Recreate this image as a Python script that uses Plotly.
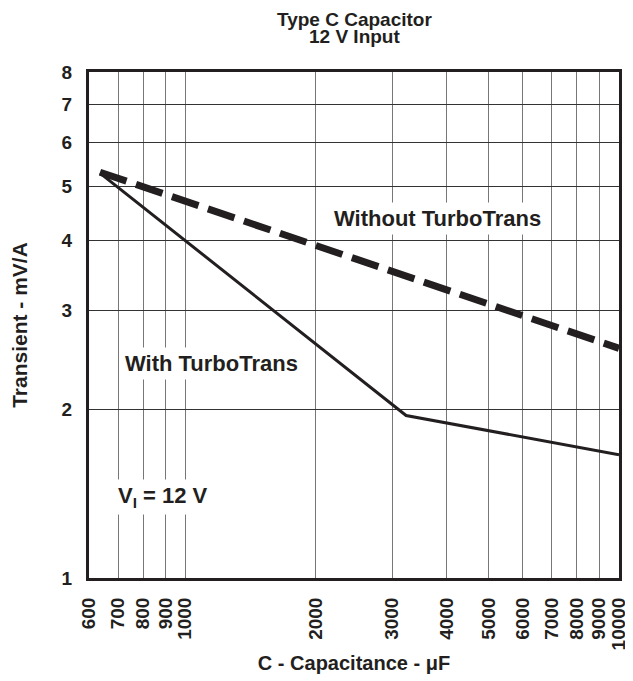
import plotly.graph_objects as go

# Data
cap_with = [636, 3230, 10000]
transient_with = [5.28, 1.95, 1.66]
cap_without = [636, 10000]
transient_without = [5.3, 2.57]

x_tickvals = [600, 700, 800, 900, 1000, 2000, 3000, 4000, 5000, 6000, 7000, 8000, 9000, 10000]
x_ticktext = ["600", "700", "800", "900", "1000", "2000", "3000", "4000", "5000", "6000", "7000", "8000", "9000", "10000"]
y_tickvals = [1, 2, 3, 4, 5, 6, 7, 8]
y_ticktext = ["1", "2", "3", "4", "5", "6", "7", "8"]

FONT = "Liberation Sans, Arial, sans-serif"

fig = go.Figure()
fig.add_trace(go.Scatter(x=cap_without, y=transient_without, mode="lines",
                         line=dict(color="#231f20", width=7, dash="28px,10px"),
                         showlegend=False, hoverinfo="skip"))
fig.add_trace(go.Scatter(x=cap_with, y=transient_with, mode="lines",
                         line=dict(color="#231f20", width=3),
                         showlegend=False, hoverinfo="skip"))

# The page body adds an 8px margin, so the figure is 8px smaller on each side
fig.update_layout(
    width=625, height=673,
    margin=dict(l=81, r=14, t=64, b=103),
    plot_bgcolor="white", paper_bgcolor="white",
    font=dict(family=FONT, color="black"),
    showlegend=False,
)
fig.update_xaxes(
    type="log", range=[2.7781513, 4.0], automargin=False,
    tickvals=x_tickvals, ticktext=x_ticktext, tickangle=-90,
    tickfont=dict(family=FONT, size=19, color="#231f20", weight="bold"),
    ticks="", ticklabelstandoff=9,
    showgrid=True, gridcolor="#777", gridwidth=1,
    showline=True, linecolor="#231f20", linewidth=3, mirror=True,
    title=dict(text="<b>C - Capacitance - μF</b>", font=dict(family=FONT, size=20, color="#231f20"), standoff=7),
    zeroline=False,
)
fig.update_yaxes(
    type="log", range=[0.0, 0.90309], automargin=False,
    tickvals=y_tickvals, ticktext=y_ticktext,
    tickfont=dict(family=FONT, size=19, color="#231f20", weight="bold"),
    ticks="", ticklabelstandoff=10,
    showgrid=True, gridcolor="#333", gridwidth=1,
    showline=True, linecolor="#231f20", linewidth=3, mirror=True,
    title=dict(text="<b>Transient - mV/A</b>", font=dict(family=FONT, size=21, color="#231f20"), standoff=29),
    zeroline=False,
)

ann_font = dict(family=FONT, size=22, color="#231f20")
for x, y, txt in [(0.658, 0.711, "<b>Without TurboTrans</b>"),
                  (0.232, 0.423, "<b>With TurboTrans</b>"),
                  (0.140, 0.160, "<b>V<sub>I</sub> = 12 V</b>")]:
    fig.add_annotation(x=x, y=y, xref="paper", yref="paper", xanchor="center", yanchor="middle",
                       text=txt, showarrow=False, font=ann_font, bgcolor="white", borderpad=3)

# Title (two tight lines)
fig.add_annotation(x=0.5, y=1, xref="paper", yref="paper", xanchor="center", yanchor="middle", yshift=53,
                   text="<b>Type C Capacitor</b>",
                   showarrow=False, font=dict(family=FONT, size=19, color="#231f20"))
fig.add_annotation(x=0.5, y=1, xref="paper", yref="paper", xanchor="center", yanchor="middle", yshift=36,
                   text="<b>12 V Input</b>",
                   showarrow=False, font=dict(family=FONT, size=19, color="#231f20"))

fig.write_html("out.html")
